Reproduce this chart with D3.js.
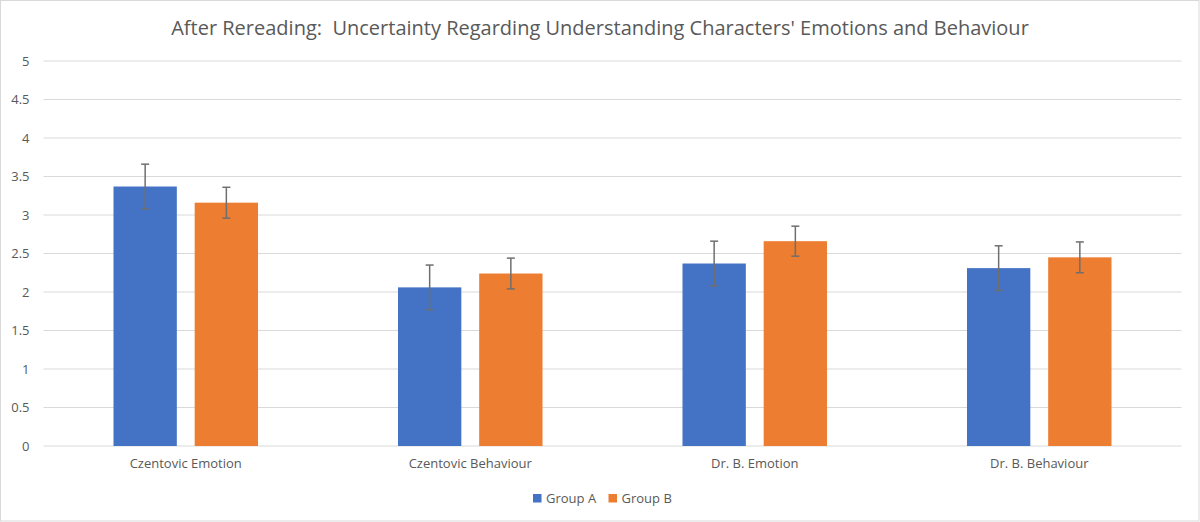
<!DOCTYPE html>
<html>
<head>
<meta charset="utf-8">
<script src="https://cdn.jsdelivr.net/npm/d3@7"></script>
<style>
  body { margin: 0; background: #fff; }
  text { font-family: "Open Sans", "Noto Sans", sans-serif; fill: #595959; }
</style>
</head>
<body>
<div id="chart"></div>
<script>
// data
var categories = ["Czentovic Emotion", "Czentovic Behaviour", "Dr. B. Emotion", "Dr. B. Behaviour"];
var groups = ["Group A", "Group B"];
var groupA = [3.37, 2.06, 2.37, 2.31];
var groupB = [3.16, 2.24, 2.66, 2.45];
var errA = [0.29, 0.29, 0.29, 0.29];
var errB = [0.20, 0.20, 0.195, 0.20];
var yTicks = [0, 0.5, 1, 1.5, 2, 2.5, 3, 3.5, 4, 4.5, 5];
var colors = ["#4472c4", "#ed7d31"];

var W = 1200, H = 522;
var margin = {top: 61, right: 18, bottom: 76, left: 43.5},
    width = 1181.5 - margin.left,
    height = 446 - margin.top;

var svg = d3.select("#chart").append("svg")
    .attr("width", W).attr("height", H);

// outer border
svg.append("rect")
    .attr("x", 0.5).attr("y", 0.5)
    .attr("width", W - 1.5).attr("height", H - 1.5)
    .attr("fill", "#fff").attr("stroke", "#d9d9d9");

svg.append("text")
    .attr("x", 600).attr("y", 35)
    .attr("text-anchor", "middle")
    .style("font-size", "20px")
    .style("white-space", "pre")
    .text("After Rereading:  Uncertainty Regarding Understanding Characters' Emotions and Behaviour");

var g = svg.append("g")
    .attr("transform", "translate(" + margin.left + "," + margin.top + ")");

var x0 = d3.scaleBand().domain(categories).range([0, width]).paddingInner(0.492).paddingOuter(0.246);
var x1 = d3.scaleBand().domain(groups).range([0, x0.bandwidth()]).paddingInner(0.22);
var y = d3.scaleLinear().domain([0, 5]).range([height, 0]);

// gridlines
g.append("g").selectAll("line").data(yTicks).enter().append("line")
    .attr("x1", 0).attr("x2", width)
    .attr("y1", function(d) { return y(d); })
    .attr("y2", function(d) { return y(d); })
    .attr("stroke", "#d9d9d9").attr("stroke-width", 1);

// y axis labels
var yAxis = g.append("g")
    .call(d3.axisLeft(y).tickValues(yTicks).tickSize(0).tickPadding(14).tickFormat(d3.format("")));
yAxis.select(".domain").remove();
yAxis.selectAll("text").style("font-size", "13px").attr("fill", "#595959").attr("font-family", null);

// x axis labels
var xAxis = g.append("g")
    .attr("transform", "translate(0," + height + ")")
    .call(d3.axisBottom(x0).tickSize(0).tickPadding(13));
xAxis.select(".domain").remove();
xAxis.selectAll("text").style("font-size", "13px").attr("fill", "#595959").attr("font-family", null);

var rows = categories.map(function(c, i) {
  return [
    {cat: c, grp: groups[0], v: groupA[i], e: errA[i], col: colors[0]},
    {cat: c, grp: groups[1], v: groupB[i], e: errB[i], col: colors[1]}
  ];
});

var cg = g.selectAll(".cat").data(rows).enter().append("g")
    .attr("transform", function(d) { return "translate(" + x0(d[0].cat) + ",0)"; });

cg.selectAll("rect").data(function(d) { return d; }).enter().append("rect")
    .attr("x", function(d) { return x1(d.grp); })
    .attr("width", x1.bandwidth())
    .attr("y", function(d) { return y(d.v); })
    .attr("height", function(d) { return height - y(d.v); })
    .attr("fill", function(d) { return d.col; });

// error bars
var eb = cg.selectAll(".err").data(function(d) { return d; }).enter().append("g")
    .attr("stroke", "#6f6f6f").attr("stroke-width", 1.5);
eb.append("line")
    .attr("x1", function(d) { return x1(d.grp) + x1.bandwidth() / 2; })
    .attr("x2", function(d) { return x1(d.grp) + x1.bandwidth() / 2; })
    .attr("y1", function(d) { return y(d.v + d.e); })
    .attr("y2", function(d) { return y(d.v - d.e); });
eb.selectAll(".cap").data(function(d) { return [[d, d.v + d.e], [d, d.v - d.e]]; }).enter().append("line")
    .attr("x1", function(p) { return x1(p[0].grp) + x1.bandwidth() / 2 - 4; })
    .attr("x2", function(p) { return x1(p[0].grp) + x1.bandwidth() / 2 + 4; })
    .attr("y1", function(p) { return y(p[1]); })
    .attr("y2", function(p) { return y(p[1]); });

// legend
var leg = svg.append("g").attr("transform", "translate(533,494)");
var items = leg.selectAll("g").data(groups).enter().append("g")
    .attr("transform", function(d, i) { return "translate(" + (i * 75.5) + ",0)"; });
items.append("rect").attr("width", 8.5).attr("height", 8.5)
    .attr("fill", function(d, i) { return colors[i]; });
items.append("text").attr("x", 13).attr("y", 8.7)
    .style("font-size", "13px")
    .text(function(d) { return d; });
</script>
</body>
</html>
